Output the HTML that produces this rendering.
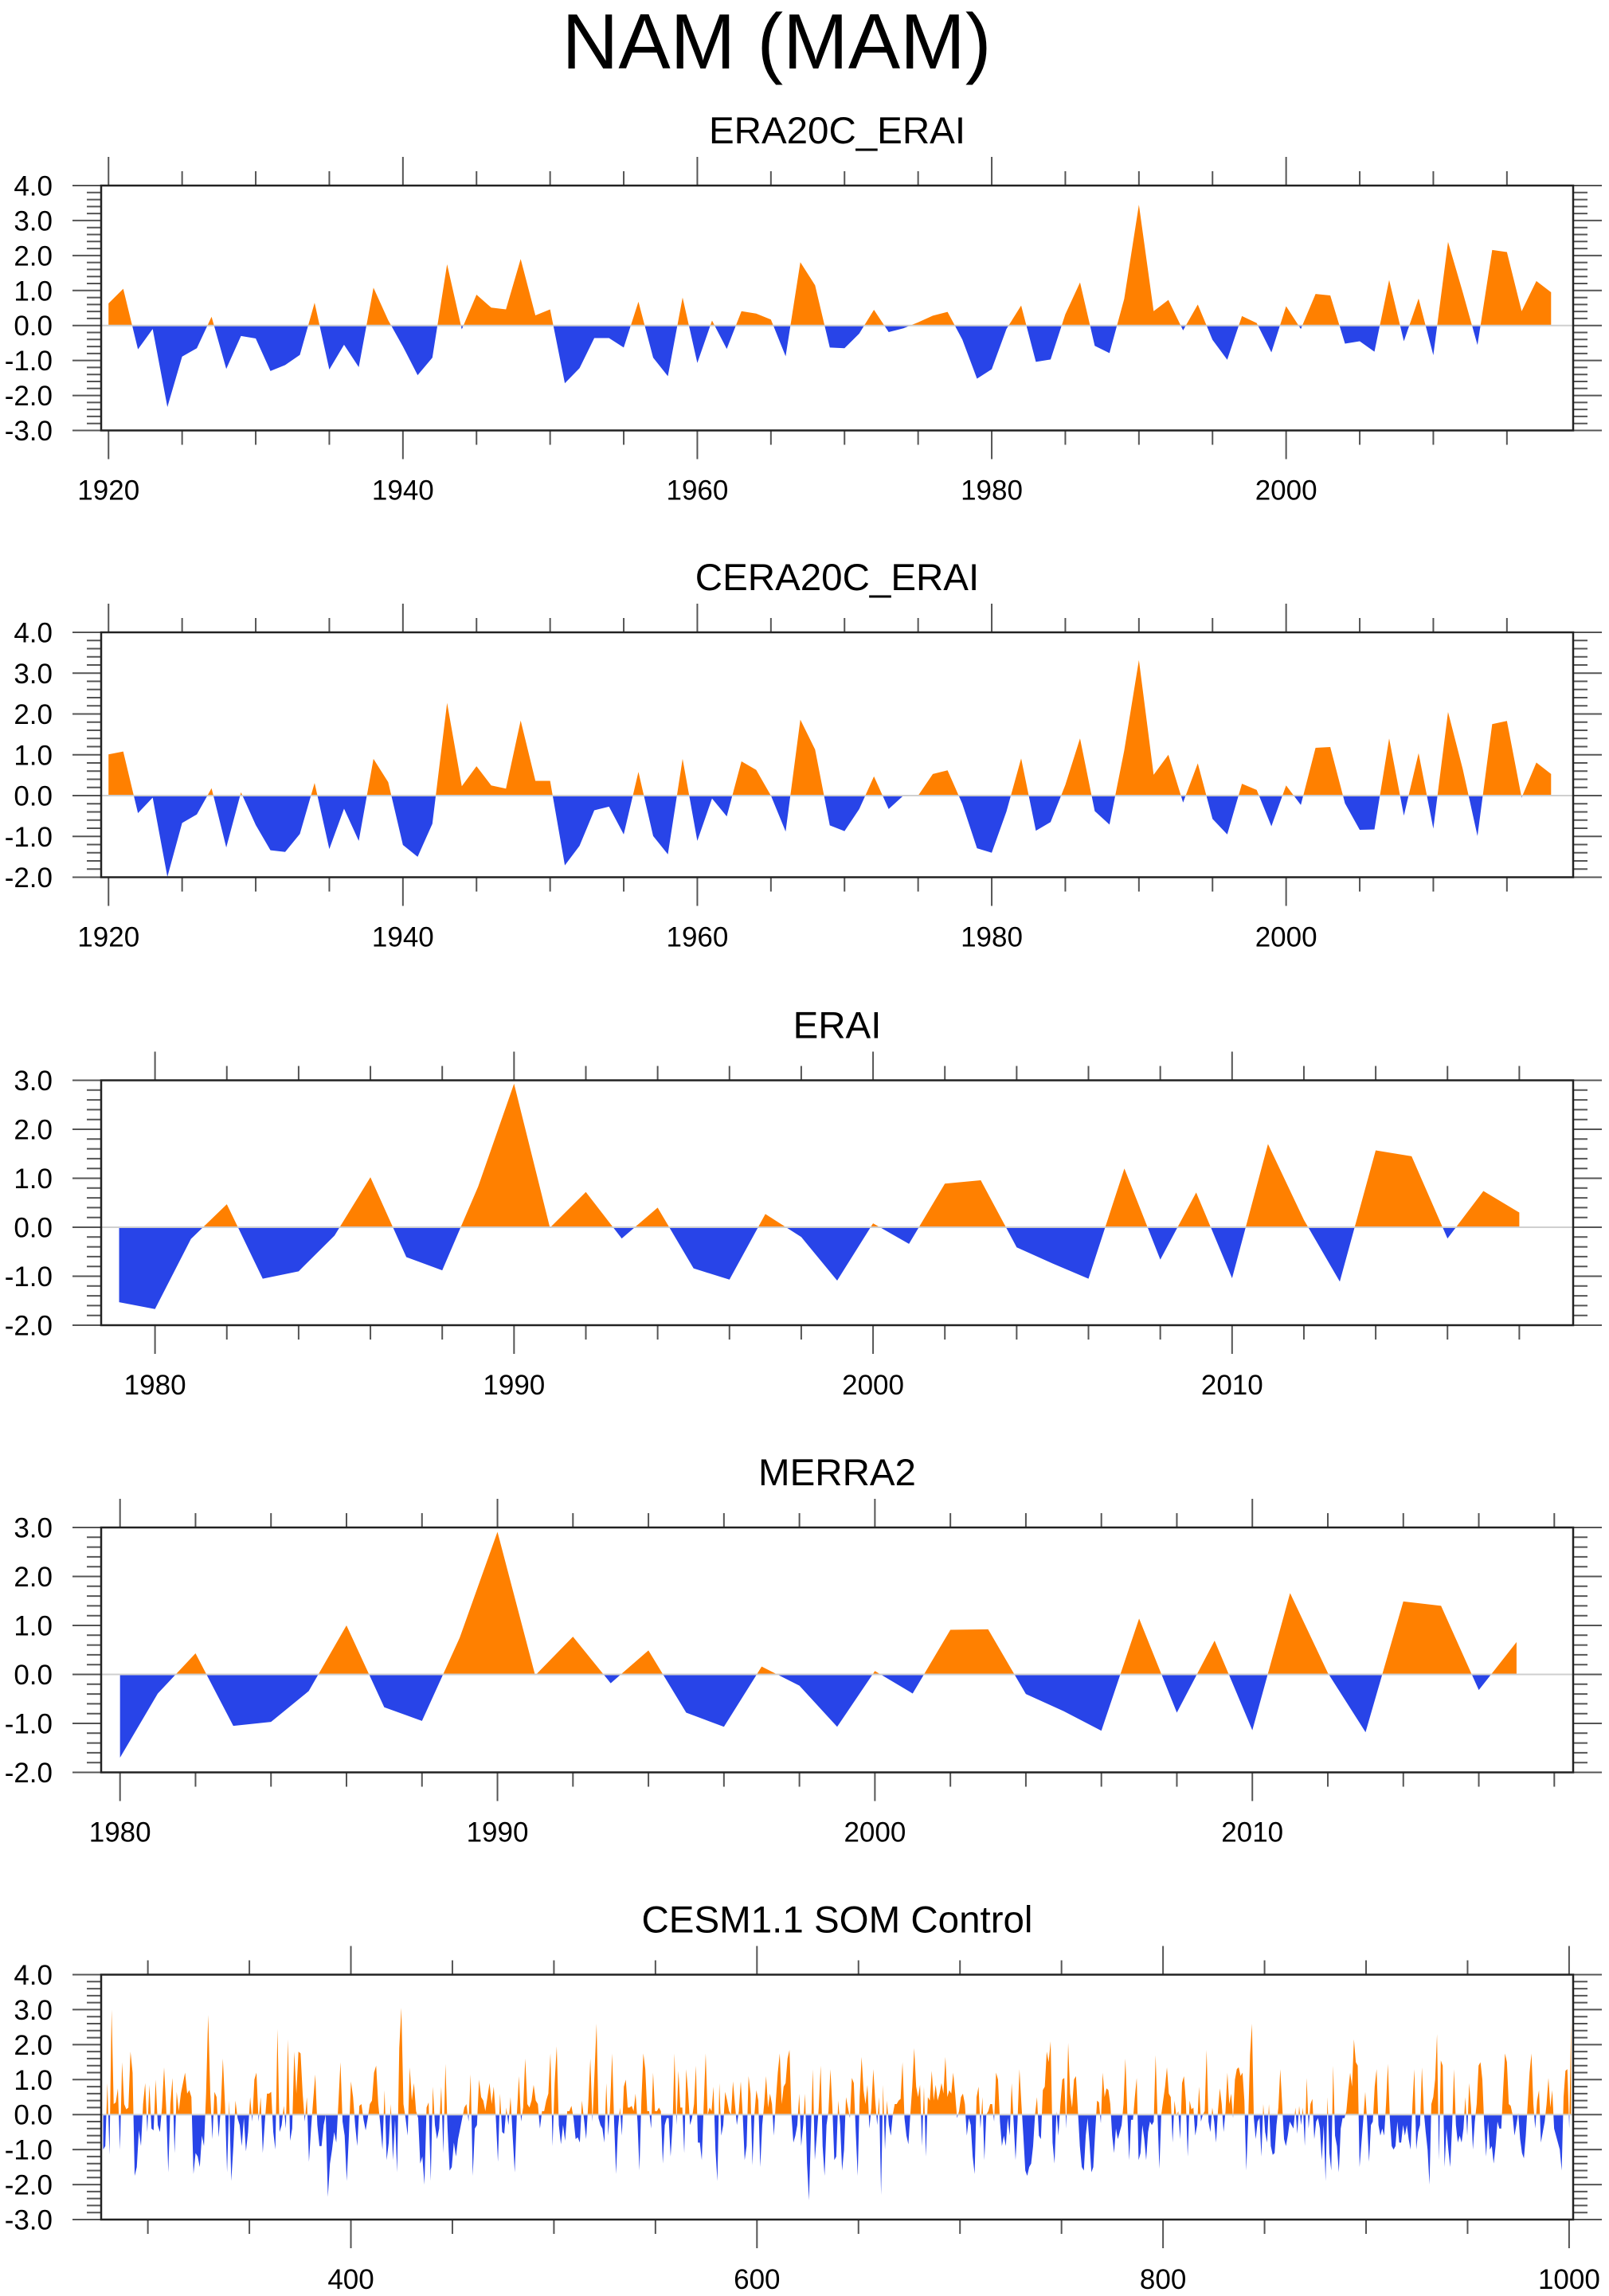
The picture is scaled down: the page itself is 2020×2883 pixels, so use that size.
<!DOCTYPE html>
<html><head><meta charset="utf-8"><title>NAM (MAM)</title>
<style>
html,body{margin:0;padding:0;background:#fff;}
svg{display:block;font-family:"Liberation Sans",Arial,sans-serif;}
</style></head>
<body>
<svg id="fig" width="2020" height="2883" viewBox="0 0 2020 2883" xmlns="http://www.w3.org/2000/svg">
<rect x="0" y="0" width="2020" height="2883" fill="#fff"/>
<text x="975" y="86" font-size="98" text-anchor="middle" fill="#000">NAM (MAM)</text>
</svg>
<script>
// ---- data ----
const era20cYears = [1920, 2018];
const era20cValues = [0.63,1.05,-0.68,-0.1,-2.33,-0.89,-0.65,0.25,-1.24,-0.3,-0.37,-1.3,-1.13,-0.84,0.65,-1.26,-0.55,-1.19,1.08,0.15,-0.6,-1.42,-0.92,1.75,-0.11,0.88,0.51,0.46,1.9,0.29,0.46,-1.65,-1.22,-0.36,-0.36,-0.63,0.68,-0.92,-1.45,0.8,-1.07,0.14,-0.67,0.41,0.34,0.17,-0.88,1.81,1.15,-0.63,-0.65,-0.23,0.45,-0.19,-0.08,0.09,0.28,0.39,-0.4,-1.52,-1.25,-0.1,0.57,-1.04,-0.97,0.32,1.23,-0.58,-0.79,0.76,3.45,0.41,0.73,-0.14,0.6,-0.41,-0.98,0.27,0.07,-0.77,0.55,-0.1,0.9,0.86,-0.52,-0.45,-0.75,1.3,-0.45,0.77,-0.85,2.39,0.95,-0.56,2.16,2.1,0.41,1.27,0.95];
const cera20cYears = [1920, 2018];
const cera20cValues = [1.01,1.08,-0.43,-0.05,-1.99,-0.67,-0.46,0.18,-1.27,0.08,-0.72,-1.34,-1.38,-0.94,0.31,-1.31,-0.32,-1.11,0.9,0.33,-1.21,-1.5,-0.69,2.27,0.23,0.72,0.25,0.17,1.84,0.36,0.36,-1.71,-1.23,-0.36,-0.27,-0.95,0.58,-0.99,-1.44,0.9,-1.11,-0.07,-0.51,0.84,0.63,0.0,-0.88,1.86,1.13,-0.73,-0.87,-0.33,0.47,-0.33,0.0,0.0,0.53,0.62,-0.2,-1.29,-1.4,-0.39,0.91,-0.86,-0.65,0.26,1.4,-0.38,-0.71,1.1,3.32,0.51,1.0,-0.17,0.79,-0.57,-0.95,0.29,0.14,-0.75,0.25,-0.23,1.17,1.19,-0.19,-0.84,-0.83,1.4,-0.49,1.04,-0.81,2.05,0.65,-0.99,1.75,1.83,-0.05,0.81,0.53];
const eraiYears = [1979, 2018];
const eraiValues = [-1.53,-1.67,-0.24,0.47,-1.05,-0.9,-0.17,1.02,-0.61,-0.88,0.83,2.93,-0.01,0.72,-0.23,0.4,-0.84,-1.07,0.27,-0.2,-1.09,0.08,-0.34,0.89,0.96,-0.41,-0.74,-1.05,1.2,-0.66,0.71,-1.04,1.7,0.15,-1.11,1.57,1.45,-0.23,0.74,0.3];
const merra2Years = [1980, 2017];
const merra2Values = [-1.7,-0.39,0.43,-1.05,-0.97,-0.34,1.0,-0.67,-0.95,0.75,2.91,-0.02,0.77,-0.18,0.49,-0.78,-1.07,0.16,-0.23,-1.07,0.07,-0.39,0.91,0.92,-0.4,-0.75,-1.15,1.14,-0.78,0.69,-1.14,1.66,0.03,-1.18,1.49,1.4,-0.32,0.66];
const cesmSegAYears = [278, 520];
const cesmSegA = [-1,-0.9,0.9,-1.15,3.0,0.3,0.35,0.75,-1.0,1.5,0.3,0.15,0.2,1.8,1.2,-1.75,-1.5,-0.45,-0.9,0.3,0.9,-0.5,0.85,-0.4,-0.45,1.0,-0.3,-0.5,0.2,1.35,0.2,-1.65,0.3,1.05,-1.1,0.65,0.1,0.6,0.9,1.2,0.6,0.7,0.5,-1.7,-1.1,-1.2,-1.5,-0.6,-0.9,0.6,2.85,0.6,-0.7,0.65,0.5,-0.65,0.2,1.6,0.3,-1.65,0.4,-1.9,-0.9,0.4,-0.1,-0.3,-0.9,-0.1,-1.05,-0.5,0.5,-0.2,1.0,1.2,-0.2,0.5,-1.1,-0.2,0.6,0.6,0.65,-0.5,-1.0,2.45,-0.5,-0.3,0.25,-0.4,2.15,-0.75,-0.4,1.8,0.6,1.8,1.75,0.6,-0.2,0.5,-1.35,-0.4,0.4,1.15,-0.3,-0.9,-0.9,-0.3,0.0,-2.35,-1.4,-1.0,-0.5,-0.8,0.3,1.5,-0.2,-0.6,-1.9,-0.6,0.95,0.5,-0.3,-0.9,0.25,0.3,-0.15,-0.45,-0.1,0.3,0.4,1.2,1.4,0.3,-0.3,-1.0,0.7,-1.3,-0.8,0.3,-1.3,-0.15,-1.65,1.9,3.05,0.3,-0.1,-0.6,1.35,0.4,0.9,0.1,-0.1,-1.4,-1.2,-2.0,0.2,0.35,-1.9,0.8,-0.3,-0.7,-0.4,0.8,-1.1,1.45,-0.4,-1.6,-1.5,-0.8,-1.2,-0.7,-0.4,-0.1,0.2,0.3,-0.2,1.15,-1.75,-0.4,-0.3,1.0,0.5,0.4,0.1,0.5,0.9,0.3,0.8,-0.1,-1.35,0.6,-0.5,-0.55,0.2,-0.3,0.5,-0.6,-1.65,0.0,1.1,-0.2,0.2,1.6,0.3,0.2,0.4,0.85,0.4,0.3,-0.4,0.1,0.1,0.4,0.6,1.75,-0.9,0.9,1.95,-0.3,-0.85,-0.3,-0.75,0.1,0.1,0.25,-0.1,-0.7,-0.65,-0.8,0.4,-0.15,-0.7,0.3,1.6,-0.2,1.2];
const cesmSegBYears = [521, 760];
const cesmSegB = [2.6,-0.1,-0.3,-0.4,-0.8,0.9,-0.6,0.3,1.75,-0.2,-1.7,-0.4,0.2,-0.6,0.8,1.0,0.2,0.2,0.25,0.1,0.6,-0.2,-1.6,0.4,1.75,1.3,0.1,0.1,-0.4,1.2,0.1,0.1,0.2,0.1,-1.4,-0.3,-0.1,-0.1,-1.2,-0.3,1.75,-0.3,1.25,0.2,0.2,-1.1,1.3,0.6,-0.3,-0.1,0.3,1.4,-0.8,-0.8,-1.3,0.3,1.75,0.0,0.2,0.1,0.8,-1.0,-1.9,0.9,-0.6,-0.3,0.65,0.4,0.1,0.0,0.95,0.3,-0.3,0.1,0.95,0.0,-1.3,-0.9,1.1,0.6,-1.45,0.0,0.7,0.4,-1.5,-0.3,0.3,1.1,0.2,0.6,0.3,-0.6,0.4,1.2,1.75,0.3,0.8,0.9,1.6,1.85,0.0,-0.8,-0.6,-0.3,0.6,-0.9,-0.3,0.6,-1.4,-2.45,-0.5,1.3,-1.3,-0.6,0.2,1.4,-0.9,-1.75,-0.3,0.1,1.3,0.2,-1.3,-1.2,0.4,-0.3,-1.6,-1.0,0.5,0.2,-0.1,1.05,0.9,-0.5,-1.75,0.5,1.65,0.7,0.3,0.85,-0.4,0.2,1.3,0.4,-0.3,0.5,-2.3,0.85,-1.0,0.4,-0.3,-0.6,0.0,0.3,0.3,0.4,0.45,1.5,-0.1,-0.6,-0.85,0.0,0.8,1.9,0.8,0.5,0.85,-0.9,0.8,-1.2,0.5,0.4,1.25,0.4,0.85,0.4,0.6,0.9,0.6,1.65,0.5,0.7,0.6,1.2,0.6,-0.1,0.1,0.5,0.6,0.3,-0.6,-0.1,-0.3,-1.2,-1.7,0.5,0.8,-0.4,0.5,-1.3,0.0,0.1,0.3,0.3,-0.2,1.2,1.0,-0.2,-0.9,-0.6,-0.9,-0.1,-0.6,0.9,-0.2,-1.3,-0.2,1.3,0.3,-0.6,-1.6,-1.75,-1.5,-1.4,-0.9,0.0,0.5,-0.6,-0.7,0.7,0.8,1.8,1.5,2.1,-0.8,-1.4,0.1,-0.6,0.3,1.0,1.05,-0.4,2.05,0.6,0.2,1.0,1.1,0.1,-0.9,-1.5];
const cesmSegCYears = [761, 1001];
const cesmSegC = [-1.6,-0.6,-0.1,-0.8,-1.65,-1.5,-0.5,0.4,0.35,-0.25,1.2,0.5,0.75,0.7,0.3,-0.6,-1.1,-0.4,-0.7,-0.5,-0.3,0.3,1.6,0.1,-1.3,-0.15,-0.15,0.5,1.05,-1.3,-1.1,-0.3,-0.7,-1.3,-0.5,-0.2,-0.3,-0.2,1.7,0.0,-1.55,0.0,0.4,0.8,1.35,0.6,0.5,-0.8,0.4,-0.05,0.1,-0.7,0.9,1.1,0.4,-1.2,0.4,0.15,0.2,-0.6,-0.3,0.8,-0.2,0.0,0.1,1.85,-0.2,-0.5,0.2,-0.2,-0.8,0.1,0.75,0.3,-0.5,0.1,1.2,0.3,0.6,-0.1,1.0,1.3,1.35,1.1,1.2,0.4,-1.6,-0.2,1.7,2.6,-0.1,-0.7,-0.2,-0.1,-1.2,0.3,-0.5,-0.8,0.3,-0.9,-1.15,-1.1,-0.3,0.2,1.3,0.3,-0.7,-0.9,-0.6,-0.2,-0.3,-0.4,0.2,-0.55,0.25,-0.3,0.2,-0.9,1.05,-0.4,0.3,0.45,-0.7,-0.2,-0.1,-0.4,-1.3,-0.3,-1.9,0.5,-1.1,-1.6,1.4,-0.6,-0.9,-1.65,-0.4,-0.1,-0.1,0.1,0.7,1.2,0.8,2.15,1.5,1.4,-1.5,-0.8,-0.1,0.65,-0.2,-1.35,-0.3,-0.2,0.8,1.3,-0.3,-0.6,-0.4,-0.6,0.3,1.45,-0.1,-0.9,-1.0,-0.9,-0.2,-0.8,-0.8,-0.3,-0.6,-0.3,-0.7,-1.0,0.3,1.3,-1.0,-0.5,-0.3,1.35,0.1,-0.5,-1.0,-2.0,0.3,0.5,1.0,2.3,-1.3,1.55,1.4,-1.5,-0.4,-1.0,-1.5,-0.3,1.3,-0.3,-0.8,-0.6,-0.8,-0.4,0.5,-0.6,0.9,0.2,-1.0,-0.2,0.3,1.4,1.5,1.0,-0.3,-1.2,-0.2,-1.0,-0.9,-1.4,-0.9,-0.2,-0.4,-0.4,0.7,1.75,1.5,0.3,0.25,0.0,-0.6,-0.3,0.05,-0.7,-1.1,-1.25,-0.6,0.3,1.2,1.75,0.3,-0.4,0.4,0.7,-0.8,-0.5,-0.2,0.3,1.05,0.2,0.7,-0.4,-0.6,-0.8,-1.0,-1.6,0.5,1.25,1.3,-0.4,2.65];

// ---- layout helpers ----
const NS = 'http://www.w3.org/2000/svg';
const svg = document.getElementById('fig');
const L = 127, R = 1975, H = 307.5;
const ORANGE = '#FF8000', BLUE = '#2844E8';
let clipId = 0;

function el(tag, attrs, parent) {
  const e = document.createElementNS(NS, tag);
  for (const k in attrs) e.setAttribute(k, attrs[k]);
  (parent || svg).appendChild(e);
  return e;
}
function spreadYears(range, n) {
  const out = [];
  for (let i = 0; i < n; i++) out.push(range[0] + (range[1] - range[0]) * i / (n - 1));
  return out;
}

function panel(cfg) {
  const g = el('g', {});
  
  
  const top = cfg.top, bot = top + H;
  const xs = v => L + (v - cfg.xmin) / (cfg.xmax - cfg.xmin) * (R - L);
  const ys = v => top + (cfg.ymax - v) / (cfg.ymax - cfg.ymin) * H;
  const y0 = ys(0);

  const t = el('text', {x: 1051, y: top - 53, 'font-size': 47.5, 'text-anchor': 'middle', fill: '#000'}, g);
  t.textContent = cfg.title;
  
  

  let d = 'M' + xs(cfg.years[0]).toFixed(2) + ',' + y0.toFixed(2);
  for (let i = 0; i < cfg.values.length; i++) d += ' L' + xs(cfg.years[i]).toFixed(2) + ',' + ys(cfg.values[i]).toFixed(2);
  d += ' L' + xs(cfg.years[cfg.years.length - 1]).toFixed(2) + ',' + y0.toFixed(2) + ' Z';

  const defs = el('defs', {}, g);
  const ca = 'clipA' + (clipId), cb = 'clipB' + (clipId++);
  const cpa = el('clipPath', {id: ca}, defs);
  el('rect', {x: L, y: top, width: R - L, height: y0 - top}, cpa);
  const cpb = el('clipPath', {id: cb}, defs);
  el('rect', {x: L, y: y0, width: R - L, height: bot - y0}, cpb);
  const pa = el('path', {d: d, fill: ORANGE, 'clip-path': 'url(#' + ca + ')'}, g);
  
  
  const pb = el('path', {d: d, fill: BLUE, 'clip-path': 'url(#' + cb + ')'}, g);
  
  

  const zl = el('line', {x1: L, x2: R, y1: y0, y2: y0, stroke: '#cfcfcf', 'stroke-width': 2}, g);
  
  

  const yt = el('g', {stroke: '#555', 'stroke-width': 2}, g);
  
  
  const nMinor = Math.round((cfg.ymax - cfg.ymin) / 0.2);
  for (let i = 0; i <= nMinor; i++) {
    const v = cfg.ymin + i * 0.2;
    const major = i % 5 === 0;
    const len = major ? 36 : 18;
    const y = ys(v);
    el('line', {x1: L - len, x2: L, y1: y, y2: y}, yt);
    el('line', {x1: R, x2: R + len, y1: y, y2: y}, yt);
    if (major) {
      const lb = el('text', {x: 66, y: y + 12.5, 'font-size': 35, 'text-anchor': 'end', fill: '#000', stroke: 'none'}, g);
      lb.textContent = (Math.round(v * 10) / 10).toFixed(1);
      
      
    }
  }
  const xt = el('g', {stroke: '#555', 'stroke-width': 2}, g);
  
  
  const start = Math.ceil(cfg.xmin / cfg.xminor) * cfg.xminor;
  for (let v = start; v <= cfg.xmax; v += cfg.xminor) {
    const major = v % cfg.xmajor === 0;
    const len = major ? 36 : 18;
    const x = xs(v);
    el('line', {x1: x, x2: x, y1: top - len, y2: top}, xt);
    el('line', {x1: x, x2: x, y1: bot, y2: bot + len}, xt);
    if (major) {
      const lb = el('text', {x: x, y: bot + 87, 'font-size': 35, 'text-anchor': 'middle', fill: '#000', stroke: 'none'}, g);
      lb.textContent = String(v);
      
      
    }
  }
  const fr = el('rect', {x: L, y: top, width: R - L, height: H, fill: 'none', stroke: '#222', 'stroke-width': 2.5}, g);
  
  
}

const cesmYears = spreadYears(cesmSegAYears, cesmSegA.length)
  .concat(spreadYears(cesmSegBYears, cesmSegB.length))
  .concat(spreadYears(cesmSegCYears, cesmSegC.length));
const cesmValues = cesmSegA.concat(cesmSegB).concat(cesmSegC);

panel({name: 'panel-era20c-erai', title: 'ERA20C_ERAI', top: 233, ymin: -3, ymax: 4, xmin: 1919.5, xmax: 2019.5, xmajor: 20, xminor: 5,
  years: spreadYears(era20cYears, era20cValues.length), values: era20cValues});
panel({name: 'panel-cera20c-erai', title: 'CERA20C_ERAI', top: 794, ymin: -2, ymax: 4, xmin: 1919.5, xmax: 2019.5, xmajor: 20, xminor: 5,
  years: spreadYears(cera20cYears, cera20cValues.length), values: cera20cValues});
panel({name: 'panel-erai', title: 'ERAI', top: 1356.5, ymin: -2, ymax: 3, xmin: 1978.5, xmax: 2019.5, xmajor: 10, xminor: 2,
  years: spreadYears(eraiYears, eraiValues.length), values: eraiValues});
panel({name: 'panel-merra2', title: 'MERRA2', top: 1918, ymin: -2, ymax: 3, xmin: 1979.5, xmax: 2018.5, xmajor: 10, xminor: 2,
  years: spreadYears(merra2Years, merra2Values.length), values: merra2Values});
panel({name: 'panel-cesm-som-control', title: 'CESM1.1 SOM Control', top: 2479.5, ymin: -3, ymax: 4, xmin: 277, xmax: 1002, xmajor: 200, xminor: 50,
  years: cesmYears, values: cesmValues});
</script>
</body></html>
